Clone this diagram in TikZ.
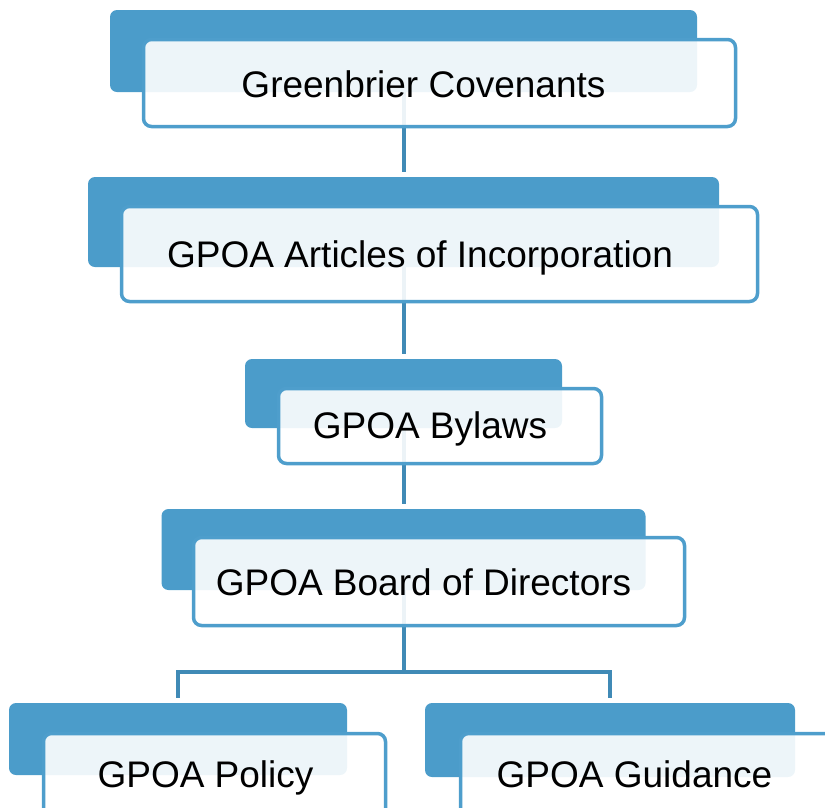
\documentclass[tikz,border=0pt]{standalone}
\usepackage{fontspec}
\setmainfont{Liberation Sans}
\usetikzlibrary{calc}

\definecolor{backblue}{RGB}{75,156,202}
\definecolor{edgeblue}{RGB}{78,158,204}
\definecolor{linkblue}{RGB}{64,138,182}

\begin{document}
\begin{tikzpicture}[x=1pt,y=-1pt,
    backbox/.style={rectangle, rounded corners=7pt, fill=backblue, inner sep=0pt},
    frontbox/.style={rectangle, rounded corners=8pt, draw=edgeblue, line width=3.5pt, fill=white, fill opacity=0.9, inner sep=0pt},
    boxtext/.style={anchor=base, inner sep=0pt, font=\fontsize{37}{44}\selectfont},
    link/.style={draw=linkblue, line width=4pt}]

     \useasboundingbox (0,0) rectangle (825,807);

     \node[backbox, minimum width=587pt, minimum height=82pt] (b1) at (403.5,51) {};
     \node[backbox, minimum width=631pt, minimum height=90pt] (b2) at (403.5,222) {};
     \node[backbox, minimum width=317pt, minimum height=69pt] (b3) at (403.5,393.5) {};
     \node[backbox, minimum width=484pt, minimum height=81pt] (b4) at (403.5,549.5) {};
     \node[backbox, minimum width=338pt, minimum height=72pt] (b5) at (178,739) {};
     \node[backbox, minimum width=370pt, minimum height=74pt] (b6) at (610,740) {};

     \coordinate (bus) at (403.5,672);

     \draw[link, shorten >=5pt] (b1.south) -- (b2.north);
     \draw[link, shorten >=5pt] (b2.south) -- (b3.north);
     \draw[link, shorten >=5pt] (b3.south) -- (b4.north);
     \draw[link] (b4.south) -- (bus);
     \draw[link, shorten >=5pt] (bus) -| (b5.north);
     \draw[link, shorten >=5pt] (bus) -| (b6.north);

     \node[frontbox, minimum width=592pt, minimum height=87pt] (f1) at (439.5,83) {};
     \node[frontbox, minimum width=636pt, minimum height=95pt] (f2) at (439.5,254) {};
     \node[frontbox, minimum width=323pt, minimum height=75pt] (f3) at (440,426) {};
     \node[frontbox, minimum width=491pt, minimum height=88pt] (f4) at (439,581.5) {};
     \node[frontbox, minimum width=342pt, minimum height=83pt] (f5) at (214.5,775) {};
     \node[frontbox, minimum width=382pt, minimum height=83pt] (f6) at (651.5,775) {};

     \node[boxtext] (t1) at (423.5,97) {Greenbrier Covenants};
     \node[boxtext] (t2) at (420,267) {GPOA Articles of Incorporation};
     \node[boxtext] (t3) at (430,438) {GPOA Bylaws};
     \node[boxtext] (t4) at (423.5,595) {GPOA Board of Directors};
     \node[boxtext] (t5) at (205.5,787) {GPOA Policy};
     \node[boxtext] (t6) at (634.5,787) {GPOA Guidance};

\end{tikzpicture}
\end{document}
